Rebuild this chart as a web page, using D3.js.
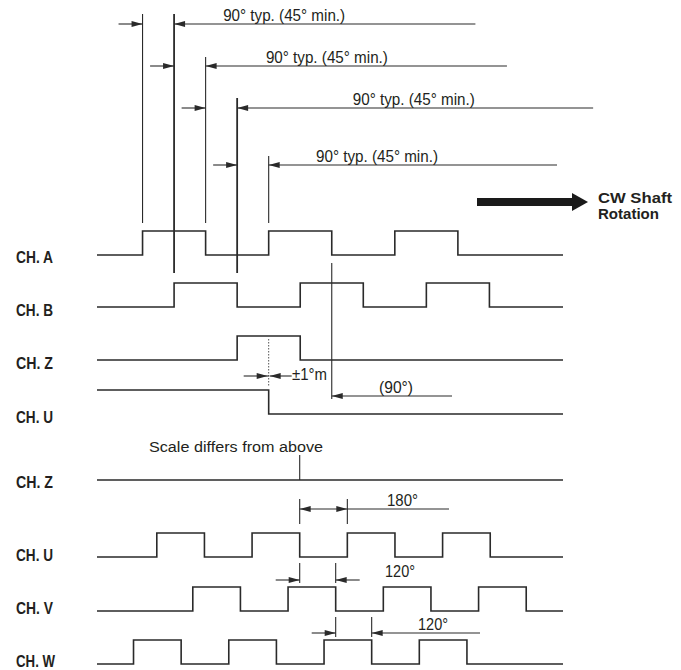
<!DOCTYPE html>
<html><head><meta charset="utf-8">
<script src="https://cdn.jsdelivr.net/npm/d3@7"></script>
<style>
html,body{margin:0;padding:0;background:#fff;}
svg{display:block;}
text{fill:#231f20;font-family:"Liberation Sans Narrow","Liberation Sans",Arial,sans-serif;}
.lbl{font-weight:bold;}
</style></head>
<body><svg id="c" width="681" height="670"></svg>
<script>
// ---------- DATA (electrical degrees) ----------
// Upper diagram (quadrature A/B, index Z, commutation U)
const upperChannels = ["CH. A", "CH. B", "CH. Z", "CH. U"];
const upperEdgesA = [0, 180, 360, 540, 720, 900];
const upperEdgesB = [90, 270, 450, 630, 810, 990];
const upperEdgesZ = [270, 450];
const upperEdgesU = [360];
const upperStartHigh = [false, false, false, true];
const upperRange = [-130, 1200];
const phaseMarks = [0, 90, 180, 270, 360];
const phaseLabels = ["90° typ. (45° min.)", "90° typ. (45° min.)", "90° typ. (45° min.)", "90° typ. (45° min.)"];
const indexTol = 360;       // ±1° mark position
const indexOffset = 540;    // (90°) mark
// Lower diagram (commutation U/V/W)
const lowerChannels = ["CH. Z", "CH. U", "CH. V", "CH. W"];
const lowerEdgesU = [-540, -360, -180, 0, 180, 360, 540, 720];
const lowerEdgesV = [-404, -224, -44, 136, 316, 496, 676, 856];
const lowerEdgesW = [-628, -448, -268, -88, 92, 272, 452, 632];
const lowerRange = [-766, 995];
const lowerIndex = 0;

// ---------- LAYOUT ----------
const svg = d3.select("#c");
const ink = "#2a2a2a";
const xU = d3.scaleLinear().domain(upperRange).range([97, 563]);
const xL = d3.scaleLinear().domain(lowerRange).range([97, 563]);
const H = 24;

function wave(x, edges, startHigh, lowY, range, sw) {
  const hiY = lowY - H;
  let lvl = startHigh;
  const pts = [[x(range[0]), lvl ? hiY : lowY]];
  edges.forEach(e => { lvl = !lvl; pts.push([x(e), lvl ? hiY : lowY]); });
  pts.push([x(range[1]), lvl ? hiY : lowY]);
  svg.append("path").attr("d", d3.line().curve(d3.curveStepAfter)(pts))
    .attr("fill", "none").attr("stroke", ink).attr("stroke-width", sw || 1.6);
}
function line(x1, y1, x2, y2, w, col, dash) {
  const l = svg.append("line").attr("x1", x1).attr("y1", y1).attr("x2", x2).attr("y2", y2)
    .attr("stroke", col || ink).attr("stroke-width", w || 1);
  if (dash) l.attr("stroke-dasharray", dash);
  return l;
}
function head(x, y, dir) { // dir=1 points right, -1 points left; tip at x
  const L = 11, W = 3;
  svg.append("path").attr("d", `M${x},${y}L${x - dir * L},${y - W}L${x - dir * L},${y + W}Z`)
    .attr("fill", ink);
}
function txt(s, x, y, size, w, cls, anchor) {
  const t = svg.append("text").attr("x", x).attr("y", y).text(s)
    .style("font-size", size + "px");
  if (w) t.attr("textLength", w).attr("lengthAdjust", "spacingAndGlyphs");
  if (cls) t.attr("class", cls);
  if (anchor) t.attr("text-anchor", anchor);
  return t;
}

// ---------- UPPER DIAGRAM ----------
const upperLow = [255, 307, 360, 414];
const upperLabelBase = [263, 316, 369, 423];
const upperEdges = [upperEdgesA, upperEdgesB, upperEdgesZ, upperEdgesU];
upperChannels.forEach((c, i) => {
  txt(c, 16, upperLabelBase[i], 17, 37, "lbl");
  wave(xU, upperEdges[i], upperStartHigh[i], upperLow[i], upperRange);
});

// extension lines for phase marks
const extTop = [14, 14, 57, 98, 156];
const extBot = [223, 273, 223, 273, 223];
phaseMarks.forEach((p, i) => {
  line(xU(p), extTop[i], xU(p), extBot[i], i % 2 ? 1.8 : 1.1);
});
// dimension rows
const rowY = [24, 66, 108, 165];
const textStart = [230, 352, 600, 495];
const leaderEnd = [950, 1040, 1286, 1183];
phaseLabels.forEach((s, i) => {
  const a = xU(phaseMarks[i]), b = xU(phaseMarks[i + 1]);
  line(a - 24, rowY[i], a, rowY[i], 1.1);
  head(a, rowY[i], 1);
  line(b, rowY[i], xU(leaderEnd[i]), rowY[i], 1.1);
  head(b, rowY[i], -1);
  txt(s, xU(textStart[i]), rowY[i] - 3, 16, 122);
});

// CW arrow
svg.append("rect").attr("x", 477).attr("y", 198).attr("width", 96).attr("height", 8).attr("fill", "#1a1a1a");
svg.append("path").attr("d", "M572,193L588,202L572,211Z").attr("fill", "#1a1a1a");
txt("CW Shaft", 598, 202.5, 14, 74, "lbl");
txt("Rotation", 598, 218.5, 14, 61, "lbl");

// ±1° index tolerance
const xt = xU(indexTol);
line(xt, 339, xt, 386, 1, "#555", "1.5,1.5");
line(xt - 25, 376, xt, 376, 1.1);
head(xt - 1, 376, 1);
line(xt + 1, 376, xt + 23, 376, 1.1);
head(xt + 1, 376, -1);
txt("±1°m", 292, 380, 16, 35);

// (90°) offset mark
const xo = xU(indexOffset);
line(xo, 263, xo, 399, 1.1);
line(xo, 396, 452, 396, 1.1);
head(xo, 396, -1);
txt("(90°)", 379, 393, 16, 34);

// ---------- LOWER DIAGRAM ----------
txt("Scale differs from above", 149, 452, 15.5, 174);
const zY = 480;
txt(lowerChannels[0], 16, 488, 17, 37, "lbl");
line(xL(lowerRange[0]), zY, xL(lowerRange[1]), zY, 1.6);
line(xL(lowerIndex), 455, xL(lowerIndex), zY, 1.1);

const lowerLow = [557, 611, 664];
const lowerLabelBase = [561, 614, 667];
const lowerEdges = [lowerEdgesU, lowerEdgesV, lowerEdgesW];
lowerEdges.forEach((e, i) => {
  txt(lowerChannels[i + 1], 16, lowerLabelBase[i], 17, i === 2 ? 39 : 37, "lbl");
  wave(xL, e, false, lowerLow[i], lowerRange);
});

// 180° dimension
const a0 = xL(lowerEdgesU[3]), a1 = xL(lowerEdgesU[4]);
line(a0, 499, a0, 524, 1.1); line(a1, 499, a1, 524, 1.1);
line(a0, 509, 449, 509, 1.1);
head(a0, 509, -1); head(a1, 509, 1);
txt("180°", 387, 506, 16, 31);

// 120° dimension #1 (U fall -> V fall)
const b0 = xL(lowerEdgesU[3]), b1 = xL(lowerEdgesV[3]);
line(b0, 563, b0, 583, 1.1); line(b1, 563, b1, 583, 1.1);
line(b0 - 24, 580, b0, 580, 1.1); head(b0, 580, 1);
line(b1, 580, b1 + 24, 580, 1.1); head(b1, 580, -1);
txt("120°", 385, 577, 16, 30);

// 120° dimension #2 (V fall -> W fall)
const c0 = xL(lowerEdgesV[3]), c1 = xL(lowerEdgesW[5]);
line(c0, 617, c0, 637, 1.1); line(c1, 617, c1, 637, 1.1);
line(c0 - 24, 633, c0, 633, 1.1); head(c0, 633, 1);
line(c1, 633, 480, 633, 1.1); head(c1, 633, -1);
txt("120°", 418, 630, 16, 30);
</script></body></html>
